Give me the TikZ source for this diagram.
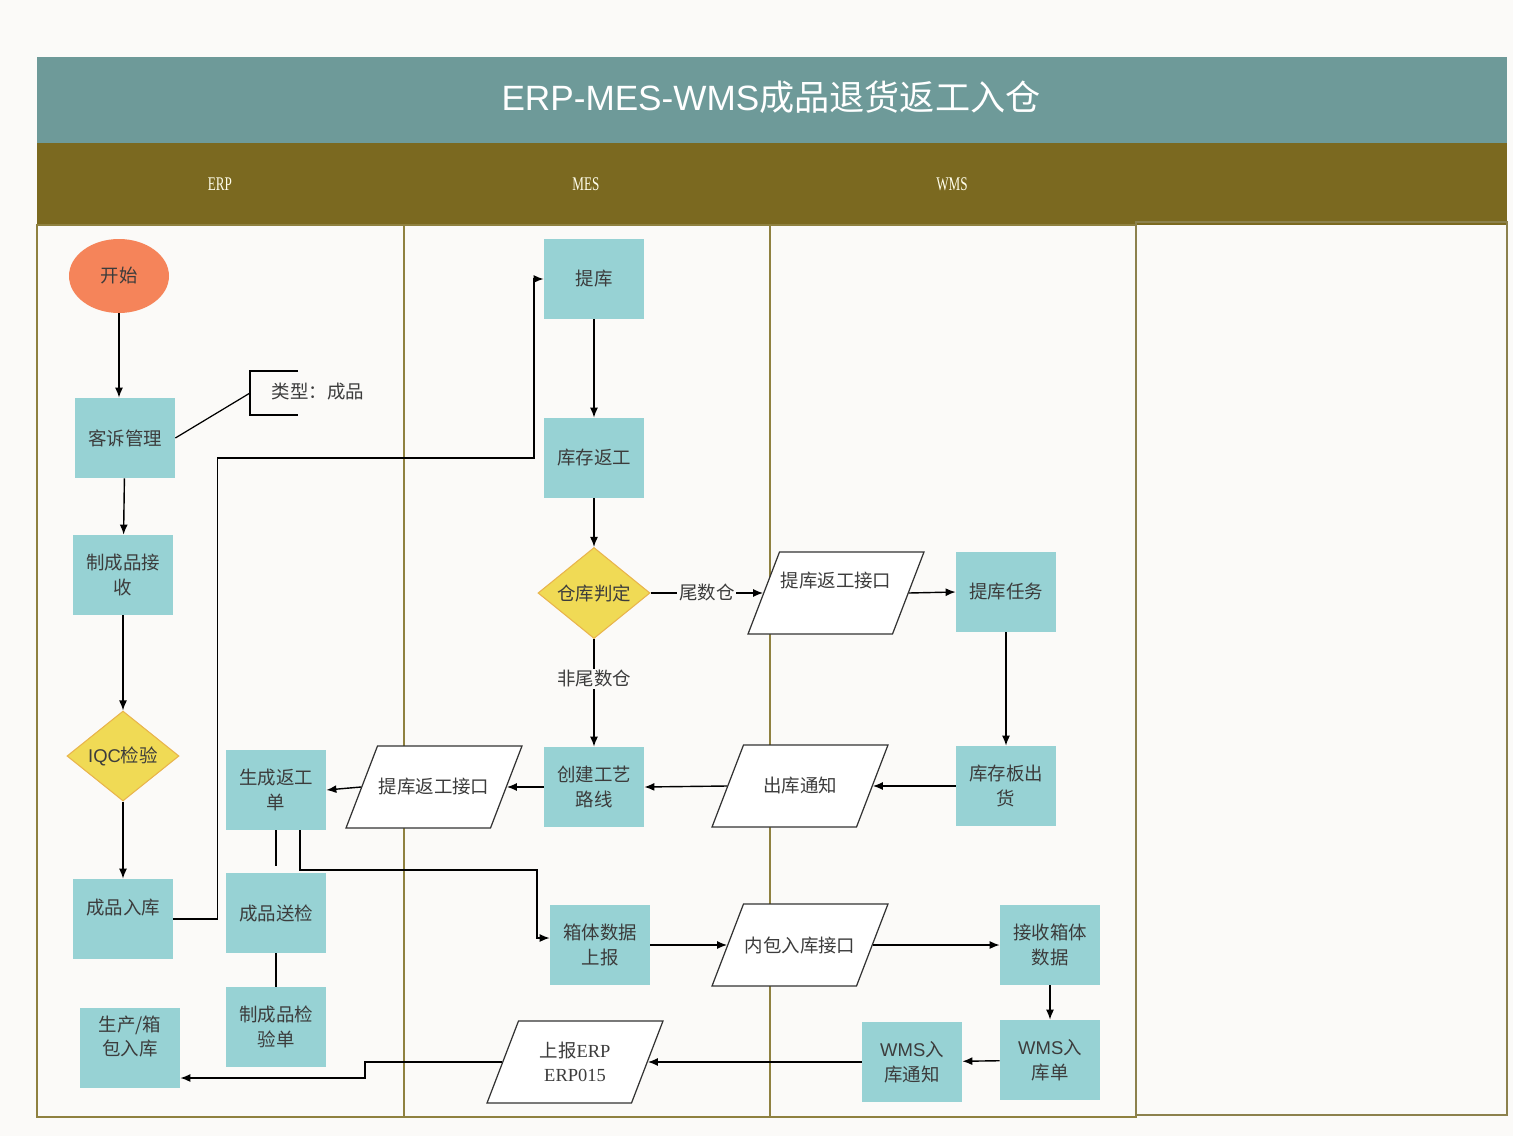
\documentclass[tikz,border=0pt]{standalone}
\usepackage{fontspec}
\setmainfont{Liberation Serif}
\setsansfont{Liberation Sans}
\newfontfamily\cjk{Noto Sans CJK SC}
\usetikzlibrary{shapes.geometric,arrows.meta,calc}
\definecolor{bgcol}{HTML}{FBFAF8}
\definecolor{titlecol}{HTML}{6E9A99}
\definecolor{headcol}{HTML}{7B6920}
\definecolor{lanecol}{HTML}{8F8140}
\definecolor{boxcol}{HTML}{97D2D4}
\definecolor{startcol}{HTML}{F5845A}
\definecolor{judgecol}{HTML}{F0DA55}
\definecolor{judgeline}{HTML}{E9B44C}
\definecolor{txtcol}{HTML}{3C3C3C}
\tikzset{
  proc/.style={rectangle, fill=boxcol, minimum width=20mm, minimum height=16mm,
    inner sep=1pt, align=center, text=txtcol, font=\cjk\fontsize{10.5}{14}\selectfont},
  judge/.style={diamond, fill=judgecol, draw=judgeline, line width=0.6pt, inner sep=0pt,
    minimum width=22.4mm, minimum height=18mm, text=txtcol, font=\cjk\fontsize{10.5}{14}\selectfont},
  iface/.style={trapezium, trapezium left angle=69, trapezium right angle=111,
    draw=black!80, fill=white, line width=0.7pt, inner xsep=11.3mm, inner ysep=8.2mm},
  ifacetext/.style={inner sep=1pt, align=center, text=txtcol,
    font=\cjk\fontsize{10.5}{14}\selectfont},
  link/.style={-{Latex[length=2mm,width=1.6mm]}, line width=0.8pt},
  lbl/.style={fill=bgcol, inner sep=1pt, text=txtcol, font=\cjk\fontsize{10.5}{14}\selectfont},
  lanehead/.style={text=white!92!yellow, font=\fontsize{11}{13}\selectfont},
}
\begin{document}
\begin{tikzpicture}[x=0.2mm, y=-0.2mm]
  % 画布
  \fill[bgcol] (0,0) rectangle (1513,1136);
  \useasboundingbox (0,0) rectangle (1513,1136);
  % 标题与泳道
  \fill[titlecol] (37,57) rectangle (1507,143);
  \node[text=white, font=\fontsize{20}{24}\selectfont] (title) at (771,97)
    {\sffamily ERP-MES-WMS{\cjk 成品退货返工入仓}};
  \fill[headcol] (37,143) rectangle (1507,225);
  \foreach \x/\t in {220/ERP, 586/MES, 952/WMS}
    \node[lanehead] (h\t) at (\x,184) {\scalebox{0.68}[1]{\t}};
  \foreach \a/\b in {37/404, 404/770, 770/1136}
    \draw[lanecol, line width=1.1pt] (\a,225) rectangle (\b,1117);
  \draw[lanecol!80!gray, line width=1pt] (1136,222) rectangle (1507,1115);

  % ERP
  \node[ellipse, fill=startcol, minimum width=20mm, minimum height=14.8mm, text=txtcol,
    font=\cjk\fontsize{10.5}{14}\selectfont] (start) at (119,276) {开始};
  \node[proc] (kesu) at (125,438) {客诉管理};
  \node[proc] (jieshou) at (123,575) {制成品接\\收};
  \node[judge] (iqc) at (123,756) {\sffamily IQC{\cjk 检验}};
  \node[proc] (ruku) at (123,919) {成品入库\\~};
  \node[proc] (baoru) at (130,1048) {生产/箱\\包入库\\~};
  \node[proc] (fgd) at (276,790) {生成返工\\单};
  \node[proc] (songjian) at (276,913) {成品送检};
  \node[proc] (jyd) at (276,1027) {制成品检\\验单};
  % 备注
  \coordinate (brk) at (250,393);
  \draw[line width=0.7pt] (298,371) -- (250,371) -- (250,415) -- (298,415);
  \node[lbl] (leixing) at (318,392) {类型：成品};
  \draw[line width=0.7pt] (kesu.east) -- (brk);

  % MES
  \node[iface] (tkjk) at (434,787) {};
  \node[ifacetext] (tkjk-t) at (tkjk) {提库返工接口};
  \node[proc] (tiku) at (594,279) {提库};
  \node[proc] (kcfg) at (594,458) {库存返工};
  \node[judge] (ckpd) at (594,593) {仓库判定};
  \node[proc] (gylx) at (594,787) {创建工艺\\路线};
  \node[proc] (xtsb) at (600,945) {箱体数据\\上报};
  \node[iface] (sberp) at (575,1062) {};
  \node[ifacetext] (sberp-t) at (sberp) {{\cjk 上报}{\rmfamily ERP}\\{\rmfamily ERP015}};

  % WMS
  \node[iface] (tkjk2) at (836,593) {};
  \node[ifacetext] (tkjk2-t) at ($(tkjk2)+(0,-12)$) {提库返工接口};
  \node[proc] (tkrw) at (1006,592) {提库任务};
  \node[proc] (kcbc) at (1006,786) {库存板出\\货};
  \node[iface] (cktz) at (800,786) {};
  \node[ifacetext] (cktz-t) at (cktz) {出库通知};
  \node[iface] (nbjk) at (800,945) {};
  \node[ifacetext] (nbjk-t) at (nbjk) {内包入库接口};
  \node[proc] (jsxt) at (1050,945) {接收箱体\\数据};
  \node[proc] (rkd) at (1050,1060) {{\sffamily WMS}入\\库单};
  \node[proc] (rktz) at (912,1062) {{\sffamily WMS}入\\库通知};

  % 连线
  \draw[link] (start.south) -- (start.south |- kesu.north);
  \draw[link] (kesu) -- (jieshou);
  \draw[link] (jieshou) -- (iqc);
  \draw[link] (iqc) -- (ruku);
  \draw[link] (ruku.east) -- ++(44,0) |- (534,458) |- (tiku.west);
  \draw[link] (tiku) -- (kcfg);
  \draw[link] (kcfg) -- (ckpd);
  \draw[link] (ckpd.east) -- node[lbl] {尾数仓} (tkjk2.west);
  \draw[link] (ckpd.south) -- node[lbl, pos=0.37] {非尾数仓} (gylx.north);
  \draw[link] (tkjk2.east) -- (tkrw.west);
  \draw[link] (tkrw) -- (kcbc);
  \draw[link] (kcbc.west) -- (cktz.east);
  \draw[link] (cktz.west) -- (gylx.east);
  \draw[link] (gylx.west) -- (tkjk.east);
  \draw[link] (tkjk.west) -- (fgd.east);
  \draw[line width=0.8pt] (fgd.south) -- ($(songjian.north)+(0,-7)$);
  \draw[line width=0.8pt] (songjian) -- (jyd);
  \draw[link] ($(fgd.south)+(24,0)$) |- (537,870) |- ($(xtsb.west)+(0,-7)$);
  \draw[link] (xtsb) -- (nbjk);
  \draw[link] (nbjk) -- (jsxt);
  \draw[link] (jsxt) -- (rkd);
  \draw[link] (rkd) -- (rktz);
  \draw[link] (rktz) -- (sberp);
  \draw[link] (sberp.west) -| (365,1078) -- ($(baoru.east)+(0,30)$);
\end{tikzpicture}
\end{document}
